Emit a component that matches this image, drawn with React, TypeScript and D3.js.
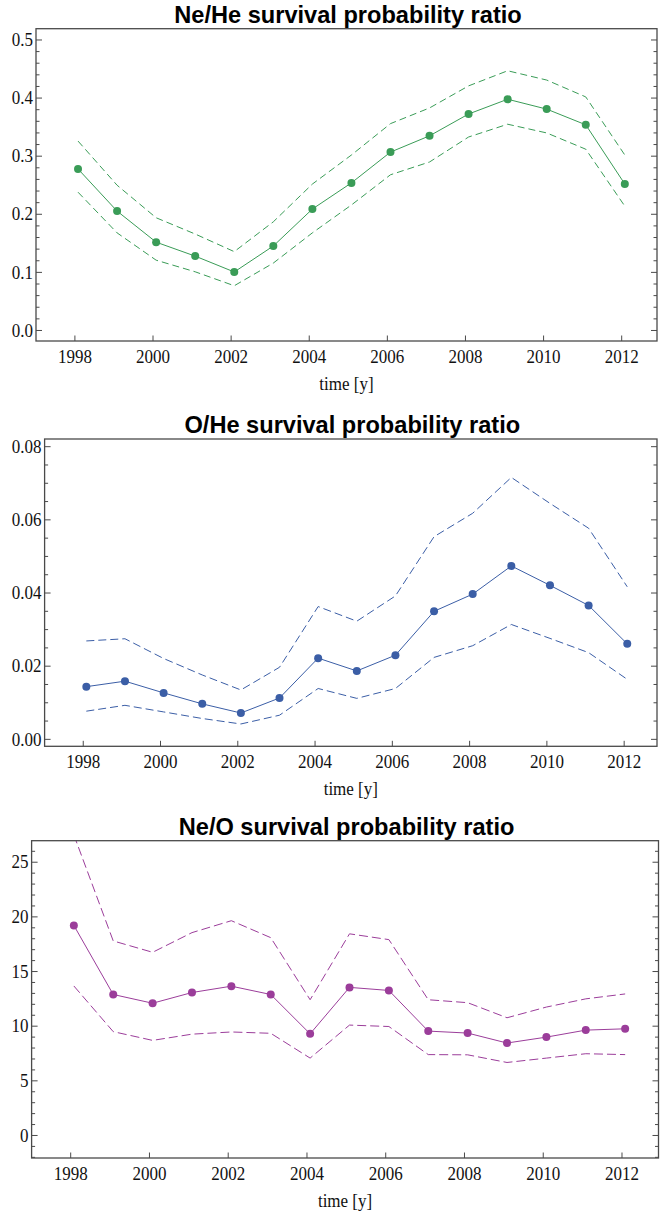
import React from "react";
import * as d3 from "d3";

const years = [1998, 1999, 2000, 2001, 2002, 2003, 2004, 2005, 2006, 2007, 2008, 2009, 2010, 2011, 2012];
const timeOffset = 0.08;

const neHeValue = [0.278, 0.2055, 0.152, 0.128, 0.1007, 0.1454, 0.209, 0.254, 0.307, 0.335, 0.3726, 0.398, 0.381, 0.354, 0.252];
const neHeUpper = [0.326, 0.25, 0.194, 0.166, 0.1357, 0.187, 0.252, 0.302, 0.356, 0.383, 0.421, 0.447, 0.431, 0.402, 0.302];
const neHeLower = [0.238, 0.168, 0.121, 0.101, 0.077, 0.116, 0.168, 0.216, 0.268, 0.29, 0.333, 0.355, 0.34, 0.312, 0.214];

const oHeValue = [0.0144, 0.0159, 0.0127, 0.0097, 0.0072, 0.0113, 0.0222, 0.0187, 0.023, 0.035, 0.0397, 0.0474, 0.0421, 0.0366, 0.0261];
const oHeUpper = [0.0269, 0.0275, 0.0221, 0.0176, 0.0135, 0.0197, 0.0363, 0.0323, 0.0392, 0.0554, 0.0618, 0.0716, 0.0645, 0.0577, 0.0417];
const oHeLower = [0.0077, 0.0093, 0.0075, 0.0057, 0.0042, 0.0066, 0.0139, 0.0112, 0.0139, 0.0224, 0.0256, 0.0314, 0.0276, 0.0237, 0.0164];

const neOValue = [19.22, 12.9, 12.1, 13.08, 13.66, 12.9, 9.3, 13.55, 13.27, 9.55, 9.37, 8.46, 9.0, 9.64, 9.76];
const neOUpper = [27.5, 17.8, 16.76, 18.56, 19.65, 18.1, 12.42, 18.45, 17.92, 12.42, 12.15, 10.77, 11.75, 12.5, 12.95];
const neOLower = [13.68, 9.5, 8.7, 9.27, 9.47, 9.35, 7.08, 10.1, 9.97, 7.4, 7.38, 6.68, 7.08, 7.48, 7.4];

const xTicks = [1998, 2000, 2002, 2004, 2006, 2008, 2010, 2012];
const neHeTicks = [0, 0.1, 0.2, 0.3, 0.4, 0.5];
const oHeTicks = [0, 0.02, 0.04, 0.06, 0.08];
const neOTicks = [0, 5, 10, 15, 20, 25];

const titles = ["Ne/He survival probability ratio", "O/He survival probability ratio", "Ne/O survival probability ratio"];
const xLabel = "time [y]";

type PanelCfg = {
  id: string;
  title: string;
  left: number; right: number; top: number; bottom: number;
  xDom: [number, number];
  yDom: [number, number];
  yTicks: number[];
  minorStep: number;
  fmt: (v: number) => string;
  values: number[]; upper: number[]; lower: number[];
  color: string;
  dash: string;
};

const panels: PanelCfg[] = [
  {
    id: "p1", title: titles[0], left: 36, right: 657, top: 28.7, bottom: 341,
    xDom: [1997.004, 2012.904], yDom: [-0.0181, 0.5194], yTicks: neHeTicks, minorStep: 0.02,
    fmt: d3.format(".1f"), values: neHeValue, upper: neHeUpper, lower: neHeLower,
    color: "#3a9c57", dash: "7,4",
  },
  {
    id: "p2", title: titles[1], left: 44.6, right: 657, top: 439, bottom: 746.3,
    xDom: [1997.0, 2012.85], yDom: [-0.0019, 0.0821], yTicks: oHeTicks, minorStep: 0.005,
    fmt: d3.format(".2f"), values: oHeValue, upper: oHeUpper, lower: oHeLower,
    color: "#3b5ea6", dash: "8,4",
  },
  {
    id: "p3", title: titles[2], left: 31.6, right: 658.5, top: 840.7, bottom: 1158,
    xDom: [1997.007, 2012.927], yDom: [-2.06, 26.97], yTicks: neOTicks, minorStep: 1,
    fmt: d3.format("d"), values: neOValue, upper: neOUpper, lower: neOLower,
    color: "#9b3d9a", dash: "9,4",
  },
];

const serif = "'Liberation Serif', 'DejaVu Serif', serif";
const sans = "'Liberation Sans', Arial, sans-serif";
const frameColor = "#4a4a4a";

function Panel({ p }: { p: PanelCfg }) {
  const x = d3.scaleLinear().domain(p.xDom).range([p.left, p.right]);
  const y = d3.scaleLinear().domain(p.yDom).range([p.bottom, p.top]);
  const line = d3
    .line<number>()
    .x((_, i) => x(years[i] + timeOffset))
    .y((v) => y(v));
  const minors: number[] = [];
  const n0 = Math.ceil(p.yDom[0] / p.minorStep);
  const n1 = Math.floor(p.yDom[1] / p.minorStep);
  for (let k = n0; k <= n1; k++) minors.push(k * p.minorStep);
  const isMajor = (v: number) => p.yTicks.some((t) => Math.abs(t - v) < p.minorStep * 0.01);
  const cx = (p.left + p.right) / 2 + 1.5;
  return (
    <g>
      <defs>
        <clipPath id={"clip-" + p.id}>
          <rect x={p.left} y={p.top} width={p.right - p.left} height={p.bottom - p.top} />
        </clipPath>
      </defs>
      <text x={cx} y={p.top - 6} textAnchor="middle" fontFamily={sans} fontWeight="bold" fontSize={23.6} fill="#000">
        {p.title}
      </text>
      <g clipPath={`url(#clip-${p.id})`}>
        <path d={line(p.upper) || ""} fill="none" stroke={p.color} strokeWidth={1} strokeDasharray={p.dash} />
        <path d={line(p.lower) || ""} fill="none" stroke={p.color} strokeWidth={1} strokeDasharray={p.dash} />
        <path d={line(p.values) || ""} fill="none" stroke={p.color} strokeWidth={1} />
        {p.values.map((v, i) => (
          <circle key={i} cx={x(years[i] + timeOffset)} cy={y(v)} r={4} fill={p.color} />
        ))}
      </g>
      {/* frame */}
      <rect x={p.left} y={p.top} width={p.right - p.left} height={p.bottom - p.top} fill="none" stroke={frameColor} strokeWidth={1.3} />
      {/* y ticks left & right */}
      {minors.map((v, i) => {
        const major = isMajor(v);
        const len = major ? 6 : 3.5;
        const yy = y(v);
        return (
          <g key={i}>
            <line x1={p.left} x2={p.left + len} y1={yy} y2={yy} stroke={frameColor} strokeWidth={1} />
            <line x1={p.right} x2={p.right - len} y1={yy} y2={yy} stroke={frameColor} strokeWidth={1} />
          </g>
        );
      })}
      {p.yTicks.map((t, i) => (
        <text
          key={i}
          transform={`translate(${p.left - 3},${y(t) + 6.2}) scale(1,1.1)`}
          textAnchor="end"
          fontFamily={serif}
          fontSize={17}
          fill="#111"
        >
          {p.fmt(t)}
        </text>
      ))}
      {xTicks.map((t, i) => (
        <g key={i}>
          <line x1={x(t)} x2={x(t)} y1={p.bottom} y2={p.bottom - 5.5} stroke={frameColor} strokeWidth={1} />
          <text
            transform={`translate(${x(t)},${p.bottom + 21.7}) scale(1,1.1)`}
            textAnchor="middle"
            fontFamily={serif}
            fontSize={17}
            fill="#111"
          >
            {t}
          </text>
        </g>
      ))}
      <text
        transform={`translate(${(p.left + p.right) / 2},${p.bottom + 48.5}) scale(1,1.1)`}
        textAnchor="middle"
        fontFamily={serif}
        fontSize={17}
        fill="#111"
      >
        {xLabel}
      </text>
    </g>
  );
}

export default function App() {
  return (
    <svg
      width={660}
      height={1213}
      viewBox="0 0 660 1213"
      style={{ position: "absolute", left: 0, top: 0, background: "#fff" }}
    >
      <rect x={0} y={0} width={660} height={1213} fill="#fff" />
      {panels.map((p) => (
        <Panel key={p.id} p={p} />
      ))}
    </svg>
  );
}
